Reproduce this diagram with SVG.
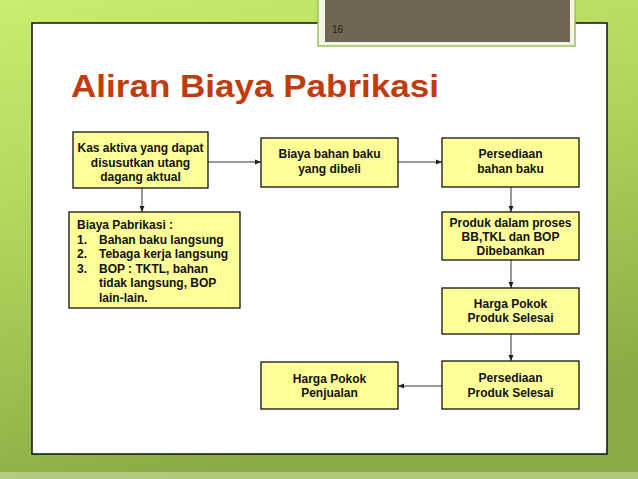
<svg xmlns="http://www.w3.org/2000/svg" width="638" height="479" viewBox="0 0 638 479">
<defs>
<linearGradient id="bg" x1="0" y1="0" x2="0.3" y2="1">
<stop offset="0" stop-color="#c8ee6e"/>
<stop offset="0.5" stop-color="#acd25a"/>
<stop offset="1" stop-color="#8aab46"/>
</linearGradient>
<marker id="arr" viewBox="0 0 6 6" refX="6" refY="3" markerWidth="6" markerHeight="6" markerUnits="userSpaceOnUse" orient="auto">
<path d="M0,0.5 L6,3 L0,5.5 Z" fill="#222"/>
</marker>
</defs>
<style>
.node rect{fill:#ffff99;stroke:#111;stroke-width:1.3}
.node text{font-family:"Liberation Sans",Arial,sans-serif;font-weight:bold;font-size:12px;fill:#111}
.c{text-anchor:middle}
.conn line{stroke:#333;stroke-width:1;marker-end:url(#arr)}
</style>
<rect x="0" y="0" width="638" height="479" fill="url(#bg)"/>
<rect x="0" y="472" width="638" height="7" fill="#c9dca0" opacity="0.6"/>
<rect x="32" y="23" width="575" height="431" fill="#fff" stroke="#111" stroke-width="1.5"/>
<g id="tab">
<rect x="318" y="-5" width="257" height="51" fill="#f2f6e6" stroke="#9ec05a" stroke-width="1.5"/>
<rect x="325" y="-2" width="245" height="44" fill="#706656"/>
<text x="332" y="33" font-family="Liberation Sans,Arial,sans-serif" font-size="10" fill="#1a1a1a">16</text>
</g>
<text id="title" x="71" y="97" font-family="Liberation Sans,Arial,sans-serif" font-weight="bold" font-size="32" fill="#c23b0c" textLength="368" lengthAdjust="spacingAndGlyphs">Aliran Biaya Pabrikasi</text>
<g class="conn">
<line x1="208" y1="162" x2="261" y2="162"/>
<line x1="398" y1="162" x2="442" y2="162"/>
<line x1="142" y1="188" x2="142" y2="212"/>
<line x1="511" y1="187" x2="511" y2="212"/>
<line x1="511" y1="260" x2="511" y2="288"/>
<line x1="511" y1="334" x2="511" y2="361"/>
<line x1="442" y1="386" x2="398" y2="386" style="stroke:#777;stroke-width:1.5"/>
</g>
<g id="n1" class="node">
<rect x="73" y="132" width="135" height="56"/>
<text class="c" x="140.5" y="152">Kas aktiva yang dapat</text>
<text class="c" x="140.5" y="166.5">disusutkan utang</text>
<text class="c" x="140.5" y="181">dagang aktual</text>
</g>
<g id="n2" class="node">
<rect x="69" y="212" width="171" height="96"/>
<text x="77" y="229">Biaya Pabrikasi :</text>
<text x="77" y="243.5">1.</text><text x="99" y="243.5">Bahan baku langsung</text>
<text x="77" y="258">2.</text><text x="99" y="258">Tebaga kerja langsung</text>
<text x="77" y="272.5">3.</text><text x="99" y="272.5">BOP : TKTL, bahan</text>
<text x="99" y="287">tidak langsung, BOP</text>
<text x="99" y="301.5">lain-lain.</text>
</g>
<g id="n3" class="node">
<rect x="261" y="138" width="137" height="49"/>
<text class="c" x="329.5" y="158">Biaya bahan baku</text>
<text class="c" x="329.5" y="173">yang dibeli</text>
</g>
<g id="n4" class="node">
<rect x="442" y="138" width="137" height="49"/>
<text class="c" x="510.5" y="158">Persediaan</text>
<text class="c" x="510.5" y="173">bahan baku</text>
</g>
<g id="n5" class="node">
<rect x="442" y="212" width="137" height="48"/>
<text class="c" x="510.5" y="226.5">Produk dalam proses</text>
<text class="c" x="510.5" y="240.5">BB,TKL dan BOP</text>
<text class="c" x="510.5" y="254.5">Dibebankan</text>
</g>
<g id="n6" class="node">
<rect x="442" y="288" width="137" height="46"/>
<text class="c" x="510.5" y="308">Harga Pokok</text>
<text class="c" x="510.5" y="322">Produk Selesai</text>
</g>
<g id="n7" class="node">
<rect x="442" y="361" width="137" height="48"/>
<text class="c" x="510.5" y="382">Persediaan</text>
<text class="c" x="510.5" y="397">Produk Selesai</text>
</g>
<g id="n8" class="node">
<rect x="261" y="362" width="137" height="47"/>
<text class="c" x="329.5" y="383">Harga Pokok</text>
<text class="c" x="329.5" y="397">Penjualan</text>
</g>
</svg>
